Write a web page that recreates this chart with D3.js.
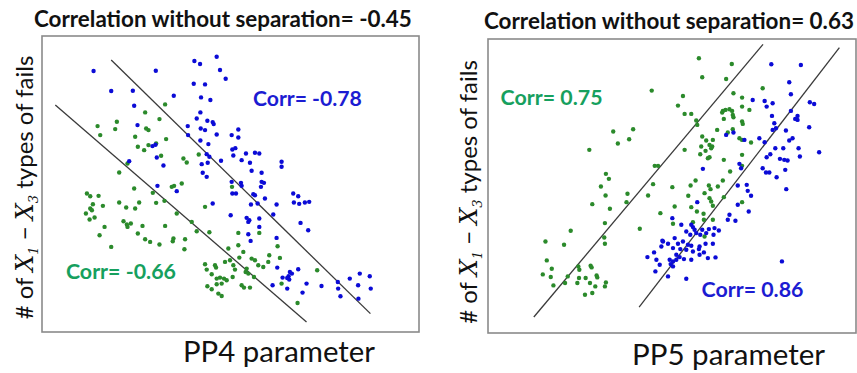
<!DOCTYPE html>
<html>
<head>
<meta charset="utf-8">
<script src="https://cdn.jsdelivr.net/npm/d3@7"></script>
<style>
  body { margin: 0; background: #fff; }
  svg { display: block; }
</style>
</head>
<body>
<svg id="chart" width="857" height="373"></svg>
<script>
// ---- data (arbitrary parameter units) ----
const pp4Blue = [
  [28.0,78.7],[46.7,78.8],[58.3,81.7],[60.0,80.8],[65.0,83.0],[66.0,79.0],[67.7,76.4],
  [33.3,72.7],[39.8,72.8],[52.1,71.3],[61.5,74.7],[58.1,74.9],[60.3,70.8],[63.1,70.0],[40.2,68.3],
  [60.1,66.3],[59.0,64.5],[62.2,63.8],[63.8,63.4],[64.1,62.8],[41.2,62.5],[56.3,62.2],[60.2,61.5],
  [61.5,61.0],[71.5,61.2],[65.0,59.7],[69.5,59.5],[71.5,58.8],[56.4,59.5],[60.1,57.9],[62.5,56.8],
  [46.6,56.6],[45.7,56.2],[69.7,55.2],[70.6,55.6],[76.5,54.2],[77.8,54.0],[62.0,53.8],[62.8,53.0],
  [73.8,54.0],[70.0,53.4],[66.3,51.8],[75.0,51.2],[72.5,52.0],[84.5,51.5],[84.5,50.0],[38.7,51.7],
  [47.0,52.8],[49.0,50.4],[60.5,50.8],[62.3,51.2],[75.5,48.8],[60.8,48.2],[62.0,47.0],[78.5,48.2],
  [69.5,45.5],[72.3,45.2],[72.5,44.3],[78.5,45.5],[79.2,45.2],[78.3,44.0],[76.0,41.8],[76.5,41.5],
  [69.7,42.0],[70.8,42.0],[79.5,40.5],[88.0,42.0],[89.5,41.2],[88.2,39.3],[89.8,38.9],[91.5,39.3],
  [92.8,39.5],[83.0,38.7],[75.3,38.7],[77.3,39.0],[63.8,39.0],[47.2,44.3],[53.0,42.7],
  [69.2,35.5],[74.0,34.7],[74.8,34.0],[74.5,33.5],[77.8,34.5],[82.0,35.7],[77.8,32.0],[83.0,28.7],
  [75.2,27.8],[74.5,29.8],[90.2,33.2],[92.5,31.0],
  [83.2,19.8],[84.8,16.8],[87.0,18.5],[87.6,18.0],[86.6,17.2],[86.2,16.7],[86.8,16.2],[81.8,14.5],
  [86.2,13.5],[89.5,19.3],[92.0,15.0],[90.8,12.3],[96.5,14.3],[101.4,15.5],[105.0,16.5],[108.0,18.0],
  [111.0,17.2],[107.5,14.5],[111.3,13.5],[101.5,13.5],[102.2,11.2],[107.6,10.5]
];
const pp4Green = [
  [49.5,68.7],[43.5,66.3],[35.0,63.5],[29.2,62.2],[34.5,61.3],[30.0,59.5],[47.8,64.3],[43.8,61.5],
  [44.5,61.0],[40.5,59.0],[41.3,56.0],[43.2,55.0],[44.5,56.5],[46.8,57.0],[49.8,58.3],[48.3,53.3],
  [55.0,52.5],[56.0,51.3],[59.6,53.7],[69.6,44.0],[35.7,48.3],[38.2,51.0],[40.2,43.5],[51.5,44.0],
  [52.2,44.3],[54.5,45.0],
  [26.0,42.0],[27.0,41.2],[29.5,41.3],[27.8,38.8],[27.0,37.5],[27.5,37.0],[25.7,36.0],[26.8,34.2],
  [28.3,34.8],[30.8,38.3],[35.7,39.3],[37.8,37.8],[41.7,39.3],[40.5,37.5],[45.8,42.2],[46.8,39.2],
  [49.3,39.8],[37.0,33.7],[38.0,32.7],[39.2,33.0],[38.2,32.0],[31.3,32.0],[29.8,29.5],[33.3,26.0],
  [41.3,30.0],[42.7,32.3],[43.5,28.3],[45.0,27.5],[47.8,26.7],[49.5,32.3],[52.0,28.5],[51.8,27.7],
  [55.5,28.3],[55.3,25.3],[53.0,36.0],[57.5,33.5],[59.0,30.7],[61.5,38.0],[62.8,30.4],[71.5,30.2],
  [77.8,30.2],[68.5,25.5],[71.5,26.5],
  [61.5,20.8],[62.0,19.2],[64.5,20.5],[64.8,19.8],[63.5,17.8],[65.0,16.5],[66.0,16.8],[67.2,16.5],
  [68.0,16.0],[66.5,15.0],[65.0,14.8],[62.2,14.2],[63.5,13.3],[65.5,12.0],[66.5,11.3],[67.5,21.5],
  [69.0,22.0],[70.0,20.5],[70.5,19.2],[69.8,17.0],[73.0,24.5],[71.8,22.8],[75.5,22.5],[76.5,22.0],
  [77.5,20.5],[79.0,20.0],[80.5,21.5],[74.0,19.5],[73.7,18.5],[74.5,18.0],[76.2,17.0],[72.5,14.5],
  [73.2,13.8],[75.0,13.8],[80.8,23.5],[84.0,22.7],[83.3,26.2],[84.5,15.0],[89.3,9.2],[95.2,19.0]
];
const pp5Green = [
  [81.7,82.5],[91.6,80.8],[82.7,76.8],[89.9,76.3],[100.9,73.5],[92.1,72.0],[94.7,70.7],[76.9,71.2],
  [67.5,72.8],[75.4,68.3],[77.4,65.8],[79.4,65.8],[80.9,63.8],[81.2,62.5],[88.9,66.7],[89.7,67.0],
  [90.9,67.2],[91.7,66.7],[88.7,66.2],[91.9,65.5],[92.1,64.8],[89.2,64.3],[94.7,68.0],[96.9,67.0],
  [94.7,63.5],[94.9,62.8],[87.2,61.0],[91.9,61.2],[90.4,60.2],[93.9,58.5],[94.7,58.0],[97.4,57.2],
  [82.7,59.0],[83.9,57.8],[85.9,58.0],[84.9,56.5],[85.7,56.0],[85.4,55.5],[82.4,56.0],[83.7,54.7],
  [77.4,55.0],[82.1,53.7],[84.4,52.5],[84.9,52.8],[89.2,52.0],[94.7,53.5],[91.1,48.5],[94.7,50.2],
  [55.9,60.5],[61.9,61.2],[60.7,58.2],[57.3,56.9],[48.7,55.0],[68.4,50.2],[69.4,50.2],
  [53.7,47.8],[54.6,46.3],[52.2,44.0],[53.6,41.3],[49.6,38.7],[54.9,37.3],[60.2,41.8],[59.9,39.3],
  [67.9,44.7],[66.4,41.3],[70.1,36.0],[63.9,31.3],[53.4,33.0],[43.1,30.7],[53.2,28.7],[53.4,26.8],
  [35.5,27.5],[41.1,26.5],[35.9,21.8],[37.4,19.3],[34.7,17.6],[37.1,16.8],[37.9,14.3],[41.4,15.0],
  [42.2,17.0],[45.4,20.0],[45.7,19.0],[49.1,20.2],[49.4,19.7],[45.6,16.5],[47.6,16.5],[45.1,15.0],
  [48.9,15.0],[50.9,17.3],[51.1,16.7],[50.5,14.0],[53.7,15.2],[53.4,14.0],[47.4,11.5],[49.6,12.0],
  [73.7,43.8],[79.2,44.3],[80.7,45.8],[84.7,44.3],[85.2,43.2],[87.4,44.0],[88.9,45.8],[78.5,41.2],
  [83.4,42.0],[84.9,40.5],[85.4,39.5],[89.2,40.8],[74.4,38.0],[79.4,37.8],[81.1,36.5],[83.1,35.8],
  [85.9,38.2],[73.9,32.8],[79.9,33.3],[83.2,34.0],[85.9,34.0],[83.4,29.0],[94.7,39.3]
];
const pp5Blue = [
  [103.5,80.7],[112.4,80.5],[108.9,75.3],[109.4,71.7],[97.9,70.0],[101.5,69.7],[103.9,69.0],[102.1,68.0],
  [115.1,69.3],[116.4,68.8],[103.7,65.2],[109.4,66.7],[111.4,65.2],[110.7,64.3],[111.4,64.0],[104.4,63.0],
  [103.9,61.0],[104.9,61.5],[107.9,60.8],[114.9,61.8],[99.9,58.5],[101.5,57.3],[109.9,58.5],[108.9,57.8],
  [104.7,55.5],[107.1,55.5],[111.7,55.5],[117.9,54.3],[102.1,52.8],[103.2,53.7],[106.1,52.3],[107.4,52.0],
  [108.4,51.8],[112.1,53.0],[89.9,59.5],[92.1,60.2],[95.4,58.0],[93.9,50.8],[94.4,49.5],[100.9,49.5],
  [101.9,48.2],[102.9,48.2],[105.1,46.8],[107.7,49.0],[108.0,43.2],[82.9,49.3],
  [93.4,44.3],[96.1,44.5],[96.4,42.7],[97.4,41.2],[93.4,38.5],[96.7,36.5],[90.9,35.5],[90.4,34.0],
  [92.7,33.7],[81.2,39.3],[73.7,34.5],[76.4,32.5],[79.4,32.5],[79.9,31.8],[80.4,31.0],[77.9,30.5],
  [79.1,29.5],[80.9,30.0],[82.1,29.5],[82.7,31.0],[84.7,31.2],[86.4,31.5],[87.7,30.8],[83.9,30.0],
  [86.1,29.5],[70.9,27.5],[72.4,26.8],[74.4,28.5],[75.4,26.8],[76.9,27.5],[78.4,26.5],[79.4,26.2],
  [81.9,26.0],[83.7,26.8],[85.9,26.8],[70.4,26.0],[73.9,25.5],[76.1,25.2],[77.9,25.0],[81.7,25.2],
  [83.2,24.2],[79.9,24.5],[74.9,23.5],[81.9,23.5],[84.4,22.5],[86.7,22.7],[72.9,22.0],[73.9,21.5],
  [74.9,22.0],[75.9,22.8],[77.2,22.2],[69.9,20.5],[73.2,20.7],[73.9,20.0],[79.4,22.0],[106.7,21.5],
  [77.9,16.3],[72.4,17.0],[70.7,27.7],[68.2,24.2],[66.2,22.8],[68.9,22.0],[68.6,18.5]
];
// fitted lines: [x0, y0, x1, y1]
const pp4Fits = [[16.5,68.5,92.0,3.5],[33.3,82.0,111.2,6.0]];
const pp5Fits = [[32.0,4.8,101.0,86.7],[63.7,7.8,124.0,85.7]];
const titles = ["Correlation without separation= -0.45", "Correlation without separation= 0.63"];
const xLabels = ["PP4 parameter", "PP5 parameter"];
const corrLabels = [
  [{ text: "Corr= -0.78", group: "blue", at: [75.9, 68.2] }, { text: "Corr= -0.66", group: "green", at: [19.7, 16.5] }],
  [{ text: "Corr= 0.75", group: "green", at: [22.0, 68.5] }, { text: "Corr= 0.86", group: "blue", at: [82.5, 10.7] }]
];

const COLORS = { blue: "#0b0bd6", green: "#2b8a2b" };
const TEXT_COLORS = { blue: "#1c1cd2", green: "#16a05e" };
const FONT = "Lato, 'Open Sans', sans-serif";

const svg = d3.select("#chart");

// shrink/grow font so text spans the width seen in the picture
function fitWidth(sel, target) {
  const node = sel.node();
  const size = parseFloat(sel.attr("font-size"));
  const len = node.getComputedTextLength();
  sel.attr("font-size", (size * target / len).toFixed(2));
}

const panels = [
  { box: [42, 36, 419, 332], xd: [12.5, 125.8], yd: [0.5, 89.2], blue: pp4Blue, green: pp4Green, fits: pp4Fits,
    title: { x: 34, y: 27, w: 378 }, xlab: { x: 183, y: 362, w: 192 }, ylab: { x: 33, y: 187.5, w: 265 },
    corrW: [109, 110] },
  { box: [488, 39, 856, 333], xd: [18.2, 129], yd: [0, 88.3], blue: pp5Blue, green: pp5Green, fits: pp5Fits,
    title: { x: 484, y: 29, w: 370 }, xlab: { x: 632, y: 365, w: 193 }, ylab: { x: 477, y: 192, w: 265 },
    corrW: [102, 102] }
];

panels.forEach((p, i) => {
  const [x0, y0, x1, y1] = p.box;
  const x = d3.scaleLinear().domain(p.xd).range([x0, x1]);
  const y = d3.scaleLinear().domain(p.yd).range([y1, y0]);
  const g = svg.append("g");

  g.append("rect")
    .attr("x", x0).attr("y", y0)
    .attr("width", x1 - x0).attr("height", y1 - y0)
    .attr("fill", "none")
    .attr("stroke", "#8a8a8a")
    .attr("stroke-width", 1.6);

  g.selectAll("line.fit")
    .data(p.fits)
    .join("line")
    .attr("class", "fit")
    .attr("x1", d => x(d[0])).attr("y1", d => y(d[1]))
    .attr("x2", d => x(d[2])).attr("y2", d => y(d[3]))
    .attr("stroke", "#3a3a3a")
    .attr("stroke-width", 1.3);

  g.selectAll("circle.green")
    .data(p.green)
    .join("circle")
    .attr("class", "green")
    .attr("cx", d => x(d[0])).attr("cy", d => y(d[1]))
    .attr("r", 2.2)
    .attr("fill", COLORS.green);

  g.selectAll("circle.blue")
    .data(p.blue)
    .join("circle")
    .attr("class", "blue")
    .attr("cx", d => x(d[0])).attr("cy", d => y(d[1]))
    .attr("r", 2.2)
    .attr("fill", COLORS.blue);

  corrLabels[i].forEach((c, k) => {
    const t = g.append("text")
      .attr("x", x(c.at[0])).attr("y", y(c.at[1]))
      .attr("font-family", FONT)
      .attr("font-weight", "bold")
      .attr("font-size", 18)
      .attr("fill", TEXT_COLORS[c.group])
      .text(c.text);
    fitWidth(t, p.corrW[k]);
  });

  const title = svg.append("text")
    .attr("x", p.title.x).attr("y", p.title.y)
    .attr("font-family", FONT)
    .attr("font-weight", "bold")
    .attr("font-size", 18)
    .attr("fill", "#111")
    .text(titles[i]);
  fitWidth(title, p.title.w);

  const xl = svg.append("text")
    .attr("x", p.xlab.x).attr("y", p.xlab.y)
    .attr("font-family", FONT)
    .attr("font-size", 26)
    .attr("fill", "#111")
    .text(xLabels[i]);
  fitWidth(xl, p.xlab.w);

  // rotated y label with math-style X1 - X3
  const yl = svg.append("text")
    .attr("transform", `translate(${p.ylab.x},${p.ylab.y}) rotate(-90)`)
    .attr("text-anchor", "middle")
    .attr("font-family", FONT)
    .attr("font-size", 22)
    .attr("fill", "#111");
  yl.append("tspan").text("# of ");
  yl.append("tspan").attr("font-family", "'DejaVu Serif', serif").attr("font-style", "italic").text("X");
  yl.append("tspan").attr("font-family", "'DejaVu Serif', serif").attr("font-style", "italic")
    .attr("font-size", 13).attr("dy", 5).text("1");
  yl.append("tspan").attr("dy", -5).text(" \u2212 ");
  yl.append("tspan").attr("font-family", "'DejaVu Serif', serif").attr("font-style", "italic").text("X");
  yl.append("tspan").attr("font-family", "'DejaVu Serif', serif").attr("font-style", "italic")
    .attr("font-size", 13).attr("dy", 5).text("3");
  yl.append("tspan").attr("dy", -5).text(" types of fails");
  const len = yl.node().getComputedTextLength();
  yl.attr("font-size", (22 * p.ylab.w / len).toFixed(2));
});
</script>
</body>
</html>
